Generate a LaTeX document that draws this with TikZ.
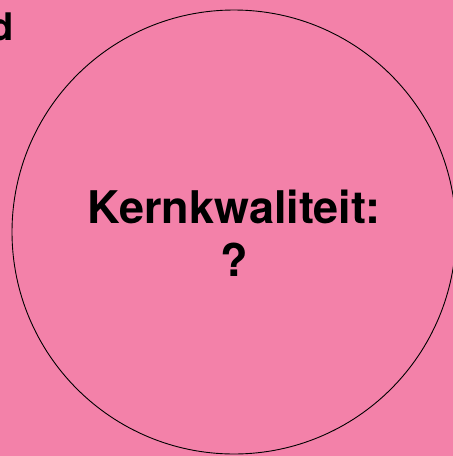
\documentclass[tikz,border=0pt]{standalone}
\usepackage{fontspec}
\setmainfont{TeX Gyre Heros}
\definecolor{roze}{HTML}{F381A9}
\begin{document}
\begin{tikzpicture}[x=1pt,y=-1pt]
	\fill[roze] (0,0) rectangle (453,456);
	\useasboundingbox (0,0) rectangle (453,456);
	\draw[line width=0.9pt] (234,232) circle (222);
	\node[anchor=base east, inner sep=0pt, font=\bfseries\fontsize{38}{40}\selectfont] (woord) at (14,40) {d};
	\node[align=center, inner sep=0pt, font=\bfseries\fontsize{45}{53}\selectfont] (kern) at (234,233) {Kernkwaliteit:\\?};
\end{tikzpicture}
\end{document}
